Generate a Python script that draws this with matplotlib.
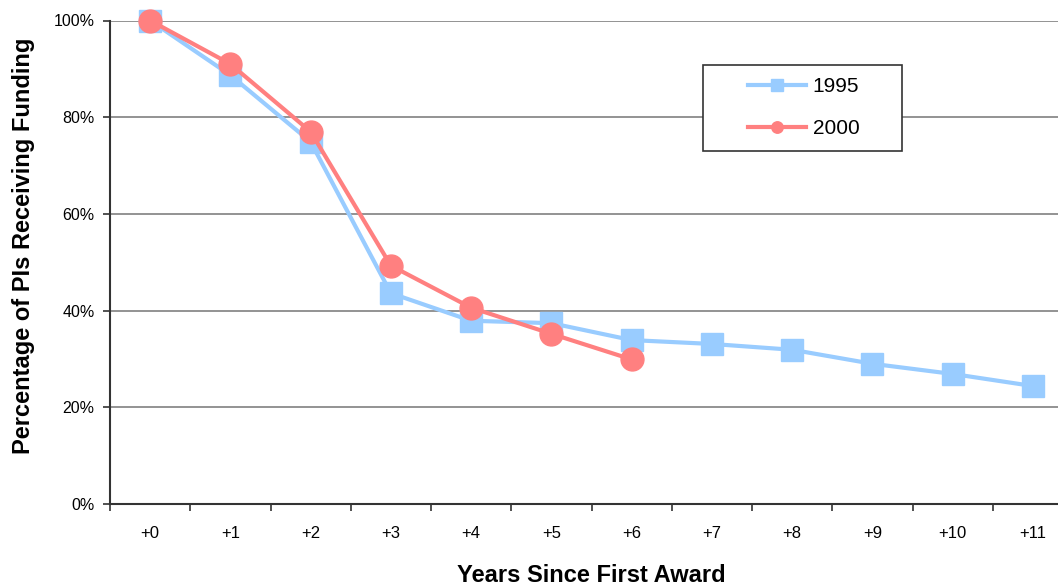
import matplotlib
matplotlib.use("Agg")
import matplotlib.pyplot as plt
from matplotlib.patches import Rectangle
from matplotlib.ticker import FixedLocator, PercentFormatter

plt.rcParams['font.family'] = ['Liberation Sans', 'DejaVu Sans']

# Years since first award and share of PIs still funded
year_labels = ['+0', '+1', '+2', '+3', '+4', '+5', '+6', '+7', '+8', '+9', '+10', '+11']
cohort_1995 = [100.0, 88.7, 74.9, 43.6, 37.9, 37.4, 33.9, 33.1, 31.9, 29.0, 26.9, 24.4]
cohort_2000 = [100.0, 91.0, 77.0, 49.3, 40.6, 35.2, 29.9]
y_ticks = [0, 20, 40, 60, 80, 100]

BLUE = '#99CCFF'
RED = '#FF8080'

fig = plt.figure(figsize=(10.58, 5.87), dpi=100)
ax = fig.add_axes([110 / 1058, 83 / 587, 963 / 1058, 483.5 / 587])

x1995 = list(range(len(cohort_1995)))
x2000 = list(range(len(cohort_2000)))
ax.plot(x1995, cohort_1995, color=BLUE, lw=3, marker='s', ms=16.5,
        mec=BLUE, label='1995', clip_on=False, zorder=3)
ax.plot(x2000, cohort_2000, color=RED, lw=3, marker='o', ms=16.5,
        mec=RED, label='2000', clip_on=False, zorder=4)

ax.set_xlim(-0.5, len(year_labels) - 0.5)
ax.set_ylim(0, 100)

# Categories centred between boundary tick marks
ax.set_xticks(range(len(year_labels)))
ax.set_xticklabels(year_labels, fontsize=12)
ax.xaxis.set_minor_locator(FixedLocator([i - 0.5 for i in range(len(year_labels) + 1)]))
ax.tick_params(axis='x', which='major', length=0, pad=16)
ax.tick_params(axis='x', which='minor', length=5, width=1.2, color='#333333')

ax.set_yticks(y_ticks)
ax.yaxis.set_major_formatter(PercentFormatter(decimals=0))
ax.tick_params(axis='y', which='major', length=5, width=1.2, color='#333333',
               labelsize=11.5, pad=6)

ax.grid(axis='y', color='#808080', lw=1.2)
ax.set_axisbelow(True)
for side in ('top', 'right'):
    ax.spines[side].set_visible(False)
for side in ('left', 'bottom'):
    ax.spines[side].set_color('#333333')
    ax.spines[side].set_linewidth(1.5)
    ax.spines[side].set_zorder(2.5)

fig.text(591 / 1058, 1 - 576 / 587, 'Years Since First Award', fontsize=17,
         fontweight='bold', ha='center', va='center')
fig.text(24 / 1058, 1 - 246 / 587, 'Percentage of PIs Receiving Funding', fontsize=17,
         fontweight='bold', ha='center', va='center', rotation=90)

# Legend box
fig.patches.append(Rectangle((703 / 1058, 1 - 151 / 587), 199 / 1058, 86 / 587,
                             transform=fig.transFigure, facecolor='white',
                             edgecolor='#333333', lw=1.2, zorder=5))
leg = fig.legend(loc='upper left', bbox_to_anchor=(748 / 1058, 1 - 77 / 587),
                 frameon=False, fontsize=15, handlelength=2.8, handletextpad=0.3,
                 labelspacing=1.1, markerscale=0.5, borderpad=0, borderaxespad=0)
leg.set_zorder(6)

fig.savefig('out.png', dpi=100)
